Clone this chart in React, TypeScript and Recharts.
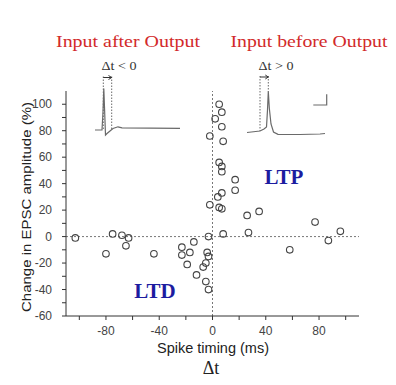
import { ScatterChart, Scatter, XAxis, YAxis, ReferenceLine, Customized } from 'recharts';

// spike timing (ms) and EPSC change (%) for each recorded pair
const spikeTiming = [
  -103, -80, -75, -68, -63, -65, -44, -23, -23, -17, -14, -19, -12, -7, -5, -4, -3, -5, -3, -3,
  -2, -2, 2, 5, 7, 7, 8, 5, 7, 7, 17, 17, 7, 4, 5, 7, 26, 35, 77, 96, 87, 58, 27, 8,
];
const epscChange = [
  -1, -13, 2, 1, -1, -7, -13, -8, -14, -12, -4, -21, -29, -23, -20, -12, -15, -34, -40, 0,
  24, 76, 89, 100, 94, 83, 72, 56, 53, 49, 43, 35, 33, 30, 22, 21, 16, 19, 11, 4, -3, -10, 3, 2,
];

const xTicks = [-100, -80, -60, -40, -20, 0, 20, 40, 60, 80, 100];
const xLabelled = [-80, -40, 0, 40, 80];
const yTicks = [-60, -50, -40, -30, -20, -10, 0, 10, 20, 30, 40, 50, 60, 70, 80, 90, 100];
const yLabelled = [-60, -40, -20, 0, 20, 40, 60, 80, 100];

const points = spikeTiming.map((x, i) => ({ x, y: epscChange[i] }));

const serif = '"Liberation Serif", "Times New Roman", serif';
const sans = '"Liberation Sans", Arial, sans-serif';
const trace = '#6a6a6a';

const OpenCircle = (props: any) => (
  <circle cx={props.cx} cy={props.cy} r={3.3} fill="none" stroke="#444" strokeWidth={1.1} />
);

// titles, inset recordings and region labels
const Annotations = () => (
  <g>
    <text x={128} y={47} textAnchor="middle" fill="#d22a2a" fontFamily={serif} fontSize={16.5} textLength={144} lengthAdjust="spacingAndGlyphs">
      Input after Output
    </text>
    <text x={309} y={47} textAnchor="middle" fill="#d22a2a" fontFamily={serif} fontSize={16.5} textLength={157} lengthAdjust="spacingAndGlyphs">
      Input before Output
    </text>

    {/* left inset */}
    <text x={119} y={70} textAnchor="middle" fill="#333" fontFamily={serif} fontSize={13} textLength={35} lengthAdjust="spacingAndGlyphs">Δt &lt; 0</text>
    <line x1={103.3} y1={76.5} x2={103.3} y2={129} stroke={trace} strokeDasharray="1.5 1.5" />
    <line x1={111.7} y1={76.5} x2={111.7} y2={129} stroke={trace} strokeDasharray="1.5 1.5" />
    <line x1={103.3} y1={77.5} x2={111.7} y2={77.5} stroke="#333" />
    <path d="M108.5,75.5 L111.7,77.5 L108.5,79.5" fill="none" stroke="#333" />
    <path
      d="M95,130 L102,130 L103,112 L103.8,88.5 L104.6,110 L105.5,135 L107,133.5 L110,131 L113,128.5 L118,126.8 L122,127.8 L180,128.3"
      fill="none" stroke={trace} strokeWidth={1.2}
    />

    {/* right inset */}
    <text x={276} y={70} textAnchor="middle" fill="#333" fontFamily={serif} fontSize={13} textLength={35} lengthAdjust="spacingAndGlyphs">Δt &gt; 0</text>
    <line x1={260} y1={76} x2={260} y2={131} stroke={trace} strokeDasharray="1.5 1.5" />
    <line x1={268.3} y1={76} x2={268.3} y2={92} stroke={trace} strokeDasharray="1.5 1.5" />
    <line x1={260} y1={77} x2={268.3} y2={77} stroke="#333" />
    <path d="M265.3,75 L268.3,77 L265.3,79" fill="none" stroke="#333" />
    <path
      d="M247,132.5 L260,131 L264,129 L266.5,127 L267.5,110 L268.3,91.5 L269.3,108 L271,124 L273.5,132 L278,134.3 L300,134.5 L320,134 L325,133.5"
      fill="none" stroke={trace} strokeWidth={1.2}
    />
    <path d="M313.3,105 L326.7,105 L326.7,94.3" fill="none" stroke={trace} strokeWidth={1.2} />

    <text x={284} y={184} textAnchor="middle" fill="#1c1ca0" fontFamily={serif} fontWeight="bold" fontSize={21}>LTP</text>
    <text x={155} y={298} textAnchor="middle" fill="#1c1ca0" fontFamily={serif} fontWeight="bold" fontSize={21}>LTD</text>

    <text
      x={0} y={0} transform="translate(31,207) rotate(-90)" textAnchor="middle" fill="#222"
      fontFamily={sans} fontSize={13.5} textLength={210} lengthAdjust="spacingAndGlyphs"
    >
      Change in EPSC amplitude (%)
    </text>
    <text x={213} y={353} textAnchor="middle" fill="#222" fontFamily={sans} fontSize={14} textLength={112} lengthAdjust="spacingAndGlyphs">
      Spike timing (ms)
    </text>
    <text x={211} y={374} textAnchor="middle" fill="#222" fontFamily={serif} fontSize={18}>Δt</text>
  </g>
);

export default function App() {
  return (
    <div style={{ position: 'absolute', left: 0, top: 0, width: 396, height: 385, background: '#fff' }}>
      <ScatterChart width={396} height={385} margin={{ top: 91, right: 37, bottom: 0, left: 0 }}>
        <XAxis
          type="number"
          dataKey="x"
          domain={[-110, 110]}
          ticks={xTicks}
          interval={0}
          tickFormatter={(v: number) => (xLabelled.includes(v) ? String(v) : '')}
          tickSize={4}
          tickMargin={6}
          height={69}
          stroke="#333"
          tick={{ fill: '#444', fontSize: 12, fontFamily: sans }}
        />
        <YAxis
          type="number"
          dataKey="y"
          domain={[-60, 110]}
          ticks={yTicks}
          interval={0}
          tickFormatter={(v: number) => (yLabelled.includes(v) ? String(v) : '')}
          tickSize={4}
          tickMargin={10}
          width={66}
          stroke="#333"
          tick={{ fill: '#444', fontSize: 12, fontFamily: sans }}
        />
        <ReferenceLine y={0} stroke="#777" strokeDasharray="2 2" />
        <ReferenceLine x={0} stroke="#777" strokeDasharray="2 2" />
        <Scatter data={points} shape={OpenCircle} isAnimationActive={false} />
        <Customized component={Annotations} />
      </ScatterChart>
    </div>
  );
}
